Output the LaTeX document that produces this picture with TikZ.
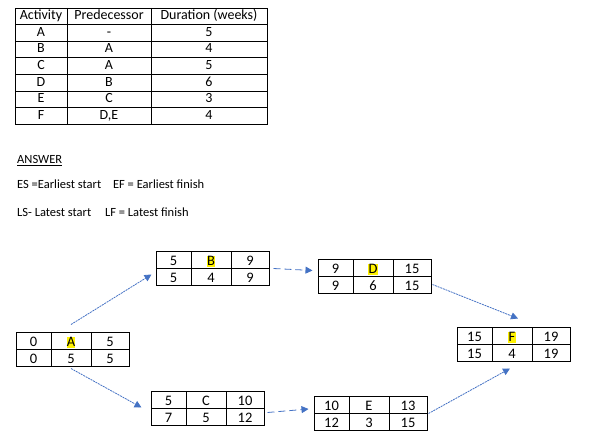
\documentclass[tikz,border=0pt]{standalone}
\usepackage{fontspec}
\setmainfont{Carlito}
\usetikzlibrary{arrows.meta}

\definecolor{arrowblue}{HTML}{4472C4}
\newcommand{\hl}[1]{{\setlength{\fboxsep}{0pt}\colorbox{yellow}{\rule[-1.7pt]{0pt}{11pt}\kern0.3pt#1\kern0.3pt}}}

% name, left, top, es, activity, ef, ls, duration, lf
\newcommand{\actbox}[9]{
    \node[cell, minimum width=35pt](#1_es) at ({#2+17.5}, {#3+8.5}) {#4};
    \node[cell, minimum width=40pt](#1_act) at ({#2+55}, {#3+8.5}) {#5};
    \node[cell, minimum width=38pt](#1_ef) at ({#2+94}, {#3+8.5}) {#6};
    \node[cell, minimum width=35pt](#1_ls) at ({#2+17.5}, {#3+25.5}) {#7};
    \node[cell, minimum width=40pt](#1_dur) at ({#2+55}, {#3+25.5}) {#8};
    \node[cell, minimum width=38pt](#1_lf) at ({#2+94}, {#3+25.5}) {#9};
}

\begin{document}
\begin{tikzpicture}[x=1pt, y=-1pt]
    \tikzstyle{cell}=[draw, line width=1pt, minimum height=17pt, inner sep=0pt, font=\fontsize{14.5}{15}\selectfont, text height=12.5pt, text depth=0.8pt]
    \tikzstyle{tab}=[inner sep=0pt, font=\fontsize{14}{15}\selectfont, text height=9.5pt, text depth=2.5pt]
    \tikzstyle{note}=[inner sep=0pt, anchor=base west, font=\fontsize{12.5}{14}\selectfont]
    \tikzstyle{flow}=[arrowblue, line width=0.8pt, dash pattern=on 2pt off 0.8pt, -{Triangle[length=7pt,width=7pt]}]
    \tikzstyle{lag}=[flow, dash pattern=on 7pt off 4pt]

    \useasboundingbox (0,0) rectangle (597,441);

    % activity table
    \draw[line width=0.8pt] (15,8) rectangle (267,124.2);
    \foreach \r in {1,...,6} \draw[line width=0.8pt] (15,{8+16.6*\r}) -- (267,{8+16.6*\r});
    \foreach \c in {67,151} \draw[line width=0.8pt] (\c,8) -- (\c,124.2);

    \node[tab](h_act) at (41,16.3) {Activity};
    \node[tab](h_pre) at (109,16.3) {Predecessor};
    \node[tab](h_dur) at (209,16.3) {Duration (weeks)};
    \foreach \a/\p/\d [count=\i] in {A/-/5, B/A/4, C/A/5, D/B/6, E/C/3, F/{D,E}/4} {
        \node[tab](act_\i) at (41,{16.3+16.6*\i}) {\a};
        \node[tab](pre_\i) at (109,{16.3+16.6*\i}) {\p};
        \node[tab](dur_\i) at (209,{16.3+16.6*\i}) {\d};
    }

    \node[note](answer) at (17,164) {\underline{ANSWER}};
    \node[note](key_e) at (17,189) {ES =Earliest start\hspace{9pt} EF = Earliest finish};
    \node[note](key_l) at (17,216.7) {LS- Latest start\hspace{11pt} LF = Latest finish};

    % network
    \actbox{a}{16}{332}{0}{\hl{A}}{5}{0}{5}{5}
    \actbox{b}{156}{251}{5}{\hl{B}}{9}{5}{4}{9}
    \actbox{c}{151}{391}{5}{C}{10}{7}{5}{12}
    \actbox{d}{318}{259}{9}{\hl{D}}{15}{9}{6}{15}
    \actbox{e}{314}{396}{10}{E}{13}{12}{3}{15}
    \actbox{f}{457}{327}{15}{\hl{F}}{19}{15}{4}{19}

    \draw[flow] ([yshift=7pt]a_act.north) -- ([xshift=-4pt,yshift=2pt]b_ls.west);
    \draw[flow] ([yshift=-2pt]a_dur.south) -- ([xshift=-9pt]c_ls.north west);
    \draw[lag] ([xshift=4pt]b_ef.south east) -- ([xshift=-5pt,yshift=-3pt]d_es.west);
    \draw[lag] ([xshift=3pt,yshift=4pt]c_lf.east) -- ([xshift=-5pt,yshift=-4.5pt]e_es.west);
    \draw[flow] ([xshift=1pt]d_lf.east) -- ([xshift=6pt,yshift=8pt]f_act.north);
    \draw[flow] ([xshift=1pt]e_ef.south east) -- ([xshift=-2pt,yshift=-7pt]f_dur.south);
\end{tikzpicture}
\end{document}
